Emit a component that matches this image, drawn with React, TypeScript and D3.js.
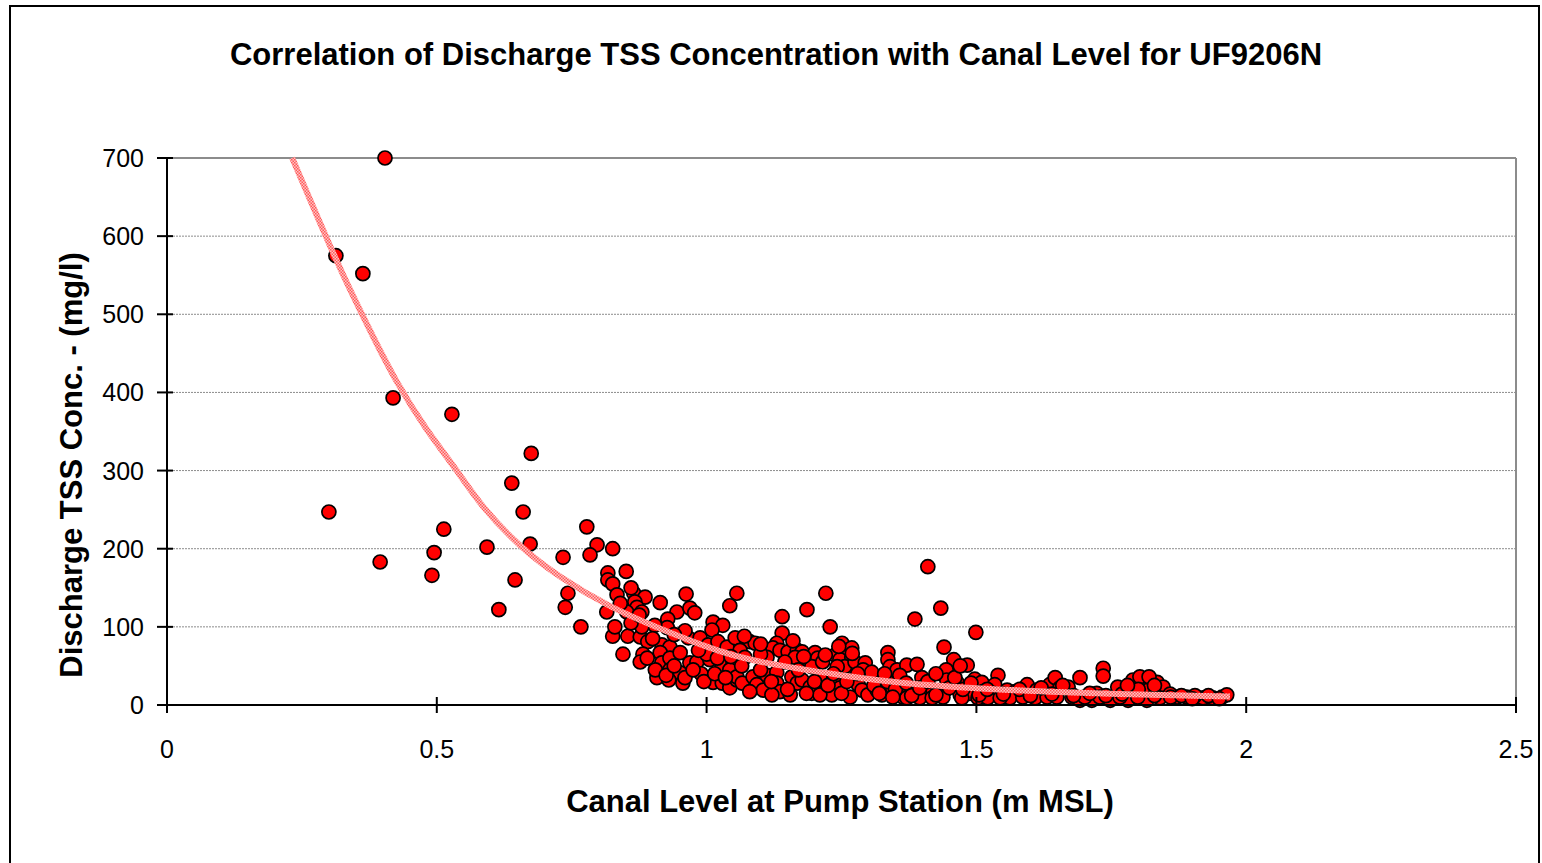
import React from 'react';
import * as d3 from 'd3';

// canal level (m MSL) / discharge TSS (mg/l)
const canalLevel = [
  0.404, 0.313, 0.363, 0.419, 0.528, 0.300, 0.395, 0.495, 0.491, 0.513, 0.675, 0.639, 0.660, 0.673, 0.593, 0.615, 0.645,
  0.778, 0.797, 0.784, 0.826, 0.734, 0.817, 0.851, 0.817, 0.826, 0.834, 0.865, 0.886, 0.867, 0.871, 0.880, 0.869, 0.852,
  0.815, 0.914, 0.962, 0.945, 0.969, 0.978, 0.928, 0.927, 0.904, 1.012, 1.030, 1.010, 1.043, 1.056, 0.743, 0.738, 0.767,
  0.826, 0.854, 0.877, 0.891, 0.917, 0.932, 0.966, 0.988, 1.003, 1.021, 1.038, 1.053, 0.845, 0.882, 0.877, 0.914, 0.917,
  0.932, 0.951, 0.969, 0.982, 1.006, 1.029, 1.049, 0.932, 0.951, 0.908, 0.930, 0.956, 0.990, 1.012, 1.029, 1.043, 1.056,
  1.140, 1.186, 1.221, 1.229, 1.080, 1.090, 1.062, 1.071, 1.140, 1.130, 1.123, 1.136, 1.112, 1.151, 1.168, 1.177, 1.164,
  1.186, 1.201, 1.206, 1.195, 1.251, 1.260, 1.269, 1.238, 1.247, 1.269, 1.256, 1.242, 1.275, 1.294, 1.290, 1.306, 1.336,
  1.336, 1.340, 1.353, 1.371, 1.043, 1.056, 1.066, 1.086, 1.093, 1.105, 1.112, 1.130, 1.130, 1.136, 1.158, 1.168, 1.177,
  1.192, 1.195, 1.210, 1.223, 1.242, 1.247, 1.262, 1.281, 1.288, 1.299, 1.316, 1.325, 1.344, 1.353, 1.364, 1.371, 1.080,
  1.386, 1.434, 1.499, 1.440, 1.458, 1.483, 1.444, 1.445, 1.540, 1.399, 1.358, 1.497, 1.510, 1.464, 1.534, 1.383, 1.401,
  1.420, 1.442, 1.470, 1.488, 1.512, 1.531, 1.557, 1.572, 1.594, 1.612, 1.636, 1.646, 1.655, 1.670, 1.692, 1.371, 1.395,
  1.418, 1.438, 1.473, 1.503, 1.521, 1.562, 1.586, 1.609, 1.631, 1.649, 1.677, 1.410, 1.735, 1.735, 1.790, 1.816, 1.835,
  1.846, 1.827, 1.762, 1.803, 1.818, 1.723, 1.692, 1.714, 1.748, 1.781, 1.816, 1.840, 1.872, 1.890, 1.920, 1.938, 1.955,
  1.964, 1.544, 1.701, 1.729, 1.766, 1.799, 1.859, 1.905, 1.232, 1.266, 1.210, 1.155, 1.121,
  0.905, 0.925, 0.940, 0.960, 0.975, 0.995, 1.015, 1.035, 1.000, 0.960, 0.985, 1.020, 1.045, 0.940, 0.900, 0.880, 0.860, 0.890,
  1.065, 1.100, 1.120, 1.145, 1.150, 1.170, 1.185, 1.200, 1.215, 1.225, 1.235, 1.250, 1.260, 1.280, 1.100, 1.070, 1.100, 1.160,
  1.180, 1.220, 1.270, 1.245,
  1.310, 1.320, 1.335, 1.350, 1.370, 1.380, 1.395, 1.410, 1.425, 1.450, 1.460, 1.475, 1.490, 1.505, 1.520, 1.345, 1.330, 1.390,
  1.425, 1.470,
  1.550, 1.580, 1.600, 1.620, 1.640, 1.660, 1.680, 1.710, 1.740, 1.770, 1.800, 1.830, 1.860, 1.880, 1.900, 1.930, 1.950, 1.780,
  1.820, 1.830,
  0.840, 0.860, 0.875, 0.830,
];
const tssConc = [
  700, 575, 552, 393, 372, 247, 183, 195, 166, 225, 322, 284, 247, 206, 202, 122, 160,
  228, 205, 192, 200, 189, 169, 171, 160, 155, 141, 143, 138, 132, 125, 119, 110, 119,
  119, 131, 142, 119, 124, 118, 110, 99, 102, 106, 102, 96, 127, 143, 143, 125, 100,
  88, 88, 87, 81, 77, 74, 86, 86, 77, 81, 74, 86, 65, 65, 55, 67, 54,
  60, 67, 54, 55, 58, 51, 54, 45, 41, 35, 32, 28, 40, 29, 28, 22, 32,
  113, 122, 143, 100, 81, 79, 70, 61, 92, 79, 73, 70, 61, 68, 70, 68, 61,
  58, 67, 60, 49, 79, 70, 73, 64, 58, 61, 49, 49, 55, 54, 45, 42, 67,
  58, 49, 45, 51, 45, 36, 28, 36, 26, 19, 38, 42, 28, 17, 36, 28, 32,
  23, 15, 36, 22, 35, 22, 32, 26, 19, 13, 19, 13, 23, 17, 10, 19, 17,
  110, 124, 93, 74, 58, 51, 45, 32, 38, 35, 38, 33, 29, 29, 26, 19, 22,
  19, 19, 13, 15, 17, 15, 19, 17, 26, 19, 26, 35, 22, 23, 35, 9, 9,
  9, 10, 9, 9, 9, 9, 10, 9, 10, 10, 10, 177, 47, 37, 32, 29, 29,
  23, 19, 23, 36, 19, 15, 6, 6, 6, 6, 6, 9, 10, 10, 9, 9, 10,
  13, 9, 10, 10, 10, 10, 14, 12, 13, 10, 13, 13, 13,
  45, 38, 50, 35, 45, 30, 40, 35, 65, 95, 70, 60, 62, 90, 85, 100, 105, 60,
  50, 45, 30, 55, 20, 45, 15, 30, 55, 25, 40, 15, 30, 40, 65, 88, 78, 82,
  62, 64, 66, 75,
  25, 15, 30, 20, 28, 12, 22, 30, 13, 22, 35, 20, 28, 13, 20, 10, 40, 52,
  40, 50,
  14, 20, 12, 22, 14, 25, 12, 15, 12, 14, 20, 12, 10, 12, 8, 12, 8, 25,
  36, 25,
  130, 150, 115, 100,
];

// fitted trend line
const trendLevel = [0.232, 0.297, 0.339, 0.385, 0.4225, 0.48, 0.537, 0.58, 0.654, 0.728, 0.821, 0.905, 1.0, 1.08, 1.266, 1.358, 1.5, 1.69, 1.97];
const trendConc = [700, 595, 531, 467, 416, 352, 301, 256, 202, 163, 125, 100, 74, 56, 36, 28, 21, 15, 11];

const xTicks = [0, 0.5, 1, 1.5, 2, 2.5];
const yTicks = [0, 100, 200, 300, 400, 500, 600, 700];

const W = 1542;
const H = 863;
const left = 167;
const right = 1516;
const top = 158;
const bottom = 705;
const font = 'Arial, "Liberation Sans", sans-serif';

export default function App() {
  const x = d3.scaleLinear().domain([0, 2.5]).range([left, right]);
  const y = d3.scaleLinear().domain([0, 700]).range([bottom, top]);

  const points = canalLevel.map((v, i) => ({ x: v, y: tssConc[i] }));
  const trend = trendLevel.map((v, i) => [v, trendConc[i]] as [number, number]);

  const line = d3
    .line<[number, number]>()
    .x((d) => x(d[0]))
    .y((d) => y(d[1]))
    .curve(d3.curveBasis);

  return (
    <svg width={W} height={H} style={{ position: 'absolute', left: 0, top: 0, background: '#fff' }}>
      <defs>
        <pattern id="trendPat" width="3" height="3" patternUnits="userSpaceOnUse">
          <rect width="3" height="3" fill="#ffc4c4" />
          <rect width="1.5" height="1.5" fill="#ff5a5a" />
          <rect x="1.5" y="1.5" width="1.5" height="1.5" fill="#ff5a5a" />
        </pattern>
      </defs>

      {/* outer frame */}
      <rect x={10} y={6} width={1529} height={880} fill="#fff" stroke="#000" strokeWidth={2} />

      {/* title */}
      <text x={776} y={65} textAnchor="middle" fontFamily={font} fontWeight="bold" fontSize={31}>
        Correlation of Discharge TSS Concentration with Canal Level for UF9206N
      </text>

      {/* grid */}
      {yTicks.filter((t) => t > 0 && t < 700).map((t) => (
        <line key={t} x1={left} x2={right} y1={y(t)} y2={y(t)} stroke="#8c8c8c" strokeWidth={1} strokeDasharray="2,1" />
      ))}
      <line x1={left} x2={right} y1={top} y2={top} stroke="#8c8c8c" strokeWidth={2} />
      <line x1={right} x2={right} y1={top} y2={bottom} stroke="#8c8c8c" strokeWidth={2} />

      {/* points */}
      {points.map((p, i) => (
        <circle key={i} cx={x(p.x)} cy={y(p.y)} r={7} fill="#ff0000" stroke="#000" strokeWidth={1.7} />
      ))}

      {/* trend */}
      <path d={line(trend) ?? ''} fill="none" stroke="url(#trendPat)" strokeWidth={6} />

      {/* axes */}
      <line x1={left} x2={left} y1={top} y2={bottom} stroke="#000" strokeWidth={2} />
      <line x1={left} x2={right} y1={bottom} y2={bottom} stroke="#000" strokeWidth={2} />
      {yTicks.map((t) => (
        <g key={t}>
          <line x1={left - 10} x2={left + 6} y1={y(t)} y2={y(t)} stroke="#000" strokeWidth={2} />
          <text x={left - 23} y={y(t) + 9} textAnchor="end" fontFamily={font} fontSize={25}>
            {t}
          </text>
        </g>
      ))}
      {xTicks.map((t) => (
        <g key={t}>
          <line x1={x(t)} x2={x(t)} y1={bottom - 8} y2={bottom + 8} stroke="#000" strokeWidth={2} />
          <text x={x(t)} y={758} textAnchor="middle" fontFamily={font} fontSize={25}>
            {t}
          </text>
        </g>
      ))}

      {/* axis titles */}
      <text x={840} y={812} textAnchor="middle" fontFamily={font} fontWeight="bold" fontSize={31}>
        Canal Level at Pump Station (m MSL)
      </text>
      <text
        transform={`translate(82,465) rotate(-90)`}
        textAnchor="middle"
        fontFamily={font}
        fontWeight="bold"
        fontSize={31}
      >
        Discharge TSS Conc. - (mg/l)
      </text>
    </svg>
  );
}
